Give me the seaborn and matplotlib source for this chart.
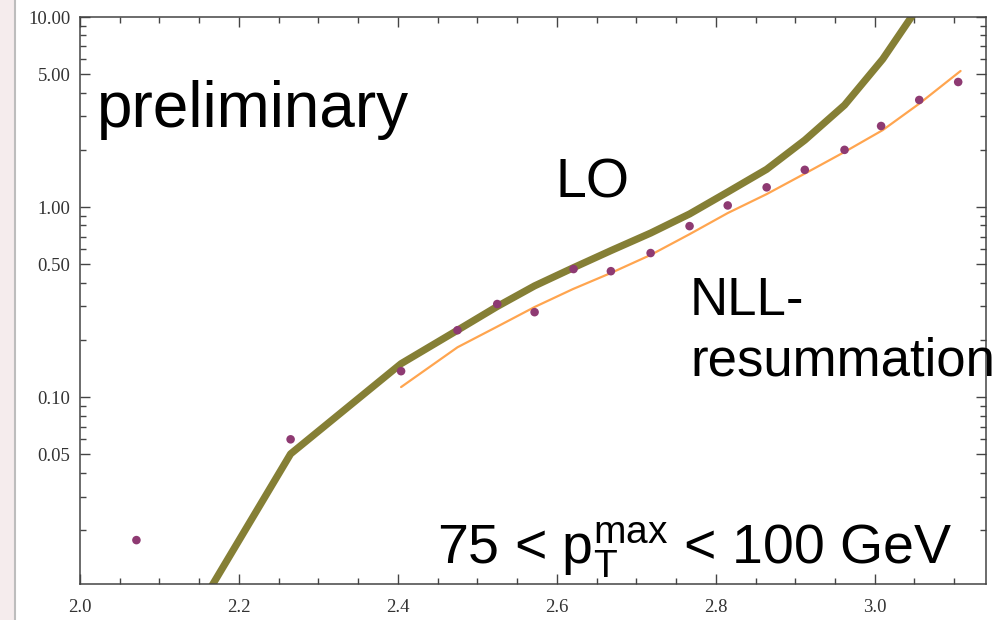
import numpy as np
import pandas as pd
import seaborn as sns
import matplotlib.pyplot as plt
from matplotlib.ticker import FixedLocator, LogLocator, NullFormatter, MultipleLocator
from matplotlib.patches import Rectangle
from matplotlib.lines import Line2D

# data
lo_x = [2.071, 2.265, 2.404, 2.475, 2.525, 2.572, 2.620, 2.668, 2.718, 2.767,
        2.815, 2.864, 2.912, 2.962, 3.010, 3.056]
lo_y = [0.0022, 0.0503, 0.150, 0.225, 0.300, 0.385, 0.478, 0.590, 0.730, 0.920,
        1.20, 1.58, 2.25, 3.44, 6.0, 11.5]

nll_x = [2.404, 2.475, 2.525, 2.572, 2.620, 2.668, 2.718, 2.767, 2.815, 2.864,
         2.912, 2.962, 3.010, 3.056, 3.108]
nll_y = [0.113, 0.183, 0.235, 0.298, 0.370, 0.450, 0.560, 0.720, 0.930, 1.17,
         1.50, 1.95, 2.54, 3.50, 5.20]

pts_x = [2.071, 2.265, 2.404, 2.475, 2.525, 2.572, 2.621, 2.668, 2.718, 2.767,
         2.815, 2.864, 2.912, 2.962, 3.008, 3.056, 3.105]
pts_y = [0.0177, 0.060, 0.137, 0.225, 0.309, 0.280, 0.472, 0.460, 0.573, 0.794,
         1.02, 1.27, 1.57, 2.00, 2.67, 3.66, 4.55]

y_major = [0.05, 0.10, 0.50, 1.00, 5.00, 10.00]
x_major = [2.0, 2.2, 2.4, 2.6, 2.8, 3.0]

sns.set_style("ticks")
plt.rcParams['font.family'] = ['Liberation Sans', 'DejaVu Sans']
plt.rcParams['text.color'] = 'black'
plt.rcParams['mathtext.fontset'] = 'custom'
plt.rcParams['mathtext.rm'] = 'Liberation Sans'
plt.rcParams['mathtext.it'] = 'Liberation Sans:italic'

fig = plt.figure(figsize=(9.97, 6.2), dpi=100)
ax = fig.add_axes([80/997, 1-584/620, (986-80)/997, (584-17)/620])

lo_df = pd.DataFrame({'x': lo_x, 'y': lo_y})
nll_df = pd.DataFrame({'x': nll_x, 'y': nll_y})
pts_df = pd.DataFrame({'x': pts_x, 'y': pts_y})

sns.lineplot(data=lo_df, x='x', y='y', ax=ax, color='#857f35', lw=5.2,
             sort=False, estimator=None, solid_capstyle='butt',
             solid_joinstyle='round')
sns.lineplot(data=nll_df, x='x', y='y', ax=ax, color='#ffa54f', lw=1.6,
             sort=False, estimator=None)
sns.scatterplot(data=pts_df, x='x', y='y', ax=ax, color='#8e3a72', s=38,
                edgecolor='none', zorder=5)

ax.set_yscale('log')
ax.set_xlim(2.0, 3.14)
ax.set_ylim(0.0104, 10.0)
ax.set_xlabel('')
ax.set_ylabel('')

ax.yaxis.set_major_locator(FixedLocator(y_major))
ax.set_yticklabels(['%.2f' % v for v in y_major])
ax.yaxis.set_minor_locator(LogLocator(base=10, subs=np.arange(2, 10)))
ax.yaxis.set_minor_formatter(NullFormatter())
ax.xaxis.set_major_locator(FixedLocator(x_major))
ax.set_xticklabels(['%.1f' % v for v in x_major])
ax.xaxis.set_minor_locator(MultipleLocator(0.05))

ax.tick_params(which='both', direction='in', top=True, right=True,
               color='#444444', width=1)
ax.tick_params(which='major', length=7)
ax.tick_params(which='minor', length=4)
for lab in ax.get_xticklabels() + ax.get_yticklabels():
    lab.set_family(['Liberation Serif'])
    lab.set_fontsize(13.5)
    lab.set_color('#333333')
ax.tick_params(axis='y', pad=7)
ax.tick_params(axis='x', pad=11)
for sp in ax.spines.values():
    sp.set_color('#444444')
    sp.set_linewidth(1.1)

# labels
fig.text(97/997, 1-127/620, 'preliminary', fontsize=46, va='baseline', color='black')
fig.text(555/997, 1-198/620, 'LO', fontsize=40, va='baseline', color='black')
fig.text(690/997, 1-315/620, 'NLL-', fontsize=38, va='baseline', color='black')
fig.text(690/997, 1-375/620, 'resummation', fontsize=38, va='baseline', color='black')
fig.text(437/997, 1-563/620, r'75 < p$_\mathrm{T}^\mathrm{max}$ < 100 GeV',
         fontsize=40, va='baseline', color='black')

# faint strip at the left edge
fig.patches.append(Rectangle((0, 0), 15/997, 1, transform=fig.transFigure,
                             facecolor='#f5eced', edgecolor='none', zorder=-1))
fig.lines.append(Line2D([15/997, 15/997], [0, 1], transform=fig.transFigure,
                        color='#bdbdbd', lw=1.5))

fig.savefig('out.png', dpi=100)
